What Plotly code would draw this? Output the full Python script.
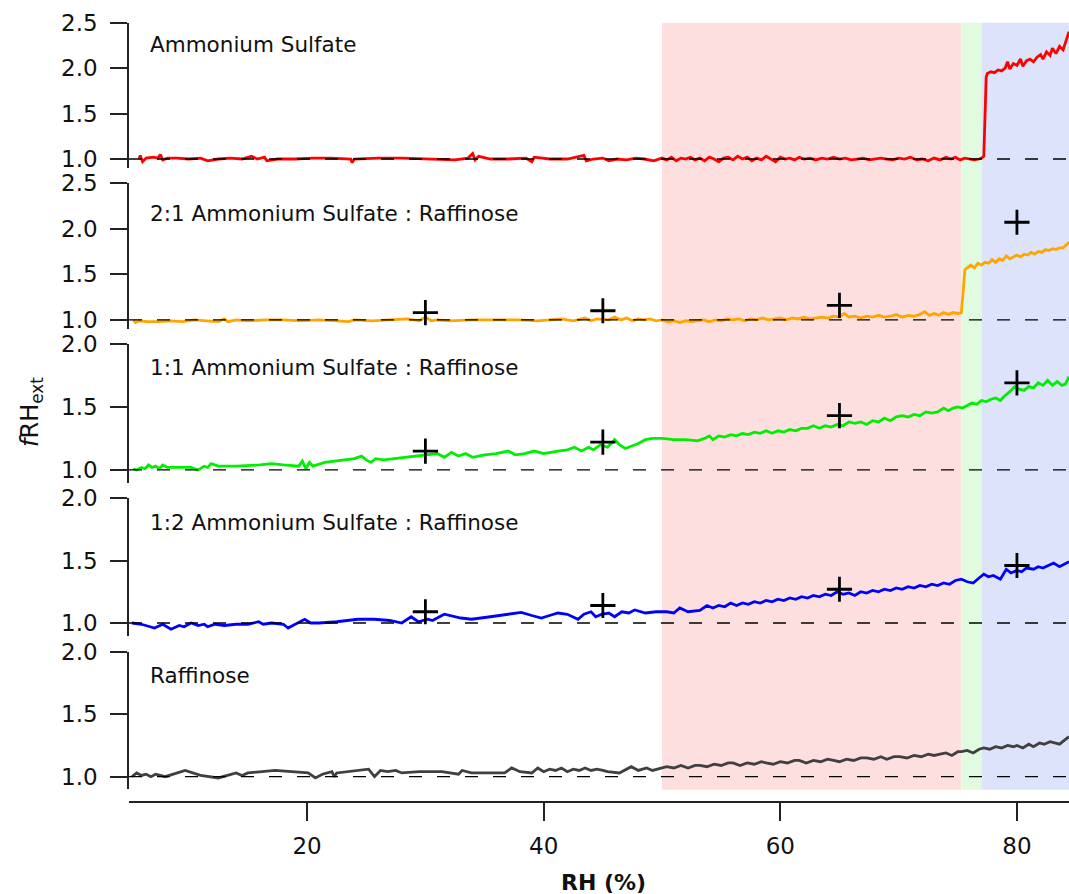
import plotly.graph_objects as go

# ---------------- data ----------------
panel_labels = ["Ammonium Sulfate", "2:1 Ammonium Sulfate : Raffinose",
                "1:1 Ammonium Sulfate : Raffinose", "1:2 Ammonium Sulfate : Raffinose",
                "Raffinose"]
line_colors = ["#ff0000", "#ffa500", "#00ee00", "#0000ff", "#404040"]

x_as = [5.8, 5.9, 6.1, 6.4, 7.0, 7.4, 7.6, 7.8, 8.2, 9.0, 10.0, 11.0, 11.6, 12.5, 13.5, 14.5, 15.3, 15.8,
        16.4, 16.6, 17.5, 19.0, 20.5, 22.0, 23.7, 23.8, 24.0, 26.0, 28.0, 30.0, 31.5, 32.5, 33.6, 34.0,
        34.2, 34.5, 35.5, 37.0, 38.5, 39.0, 39.2, 40.5, 42.0, 43.4, 43.6, 44.2, 45.0, 45.5, 46.2, 47.0,
        47.8, 48.5, 49.3,
        50.0, 50.4, 50.8, 51.2, 51.6, 52.0, 52.4, 52.8, 53.2, 53.6, 54.0, 54.4, 54.8, 55.2, 55.6, 56.0,
        56.4, 56.8, 57.2, 57.6, 58.0, 58.4, 58.8, 59.2, 59.6, 60.0, 60.4, 60.8, 61.2, 61.6, 62.0, 62.5,
        63.0, 63.5, 64.0, 64.5, 65.0, 65.5, 66.0, 66.5, 67.0, 67.5, 68.0, 68.5, 69.0, 69.5, 70.0, 70.5,
        71.0, 71.5, 72.0, 72.5, 73.0, 73.5, 74.0, 74.4, 74.8, 75.2, 75.6, 76.0, 76.4, 76.8, 77.0, 77.2,
        77.3, 77.4, 77.5, 77.8, 78.1, 78.4, 78.7, 79.0, 79.2, 79.4, 79.7, 80.0, 80.3, 80.5, 80.8, 81.1,
        81.4, 81.7, 82.0, 82.2, 82.5, 82.8, 83.0, 83.3, 83.6, 83.9, 84.1, 84.4]
y_as = [1.00, 1.04, 0.97, 1.01, 1.02, 1.01, 1.05, 0.99, 1.01, 1.01, 1.00, 1.01, 0.98, 1.00, 1.01, 1.00, 1.03, 1.00,
        1.02, 0.98, 1.00, 1.00, 1.01, 1.01, 1.00, 0.96, 1.00, 1.01, 1.01, 1.00, 1.00, 0.99, 1.01, 1.06,
        0.99, 1.03, 1.00, 1.00, 1.01, 0.97, 1.02, 1.00, 1.00, 1.04, 0.98, 1.00, 1.01, 0.98, 1.00, 0.99,
        1.01, 1.00, 0.98,
        1.01, 0.99, 1.02, 0.98, 1.01, 1.00, 1.02, 0.99, 1.01, 0.98, 1.02, 1.00, 0.97, 1.01, 1.02, 0.99,
        1.03, 1.00, 1.02, 0.98, 1.01, 0.99, 1.03, 1.00, 0.97, 1.02, 1.00, 1.01, 0.99, 1.02, 1.00, 1.01,
        0.99, 1.01, 1.00, 1.02, 1.00, 1.01, 0.99, 1.00, 1.01, 0.99, 1.00, 1.01, 1.00, 0.99, 1.01, 1.00,
        1.02, 0.99, 1.00, 0.98, 1.01, 0.99, 1.02, 1.00, 1.02, 0.99, 1.01, 1.00, 0.99, 1.00, 1.01, 1.03,
        1.40, 1.90, 1.94, 1.96, 1.95, 1.98, 1.97, 2.00, 2.07, 1.99, 2.05, 2.03, 2.10, 2.02, 2.08, 2.10,
        2.07, 2.12, 2.15, 2.10, 2.18, 2.14, 2.22, 2.16, 2.24, 2.20, 2.28, 2.40]

x_21 = [5.3, 5.5, 5.8, 6.5, 7.5, 8.5, 9.5, 10.5, 11.5, 12.5, 13.0, 13.3, 14.0, 15.0, 16.5, 18.0, 19.5, 21.0,
        22.5, 23.5, 24.0, 25.5, 27.0, 28.5, 29.5, 30.0, 30.5, 31.0, 32.0, 34.0, 36.0, 38.0, 39.5, 40.5,
        41.5, 42.5, 43.5, 44.0, 44.5, 45.5, 46.0, 46.5, 47.0, 47.5, 48.0, 48.5, 49.0, 49.5, 50.0, 50.5,
        51.0, 51.5, 52.0, 52.5, 53.0, 53.5, 54.0, 54.5, 55.0, 55.5, 56.0, 56.5, 57.0, 57.5, 58.0, 58.5,
        59.0, 59.5, 60.0, 60.5, 61.0, 61.5, 62.0, 62.5, 63.0, 63.5, 64.0, 64.5, 65.0, 65.4, 65.8, 66.3,
        66.8, 67.3, 67.8, 68.3, 68.8, 69.3, 69.8, 70.3, 70.8, 71.3, 71.8, 72.2, 72.6, 73.0, 73.4, 73.8,
        74.2, 74.6, 75.0, 75.3, 75.45, 75.6, 75.8, 76.1, 76.4, 76.7, 77.0, 77.3, 77.6, 77.9, 78.2, 78.5,
        78.8, 79.1, 79.4, 79.7, 80.0, 80.3, 80.6, 80.9, 81.2, 81.5, 81.8, 82.1, 82.4, 82.7, 83.0, 83.3,
        83.6, 83.9, 84.2, 84.4]
y_21 = [1.00, 0.97, 0.99, 0.98, 0.98, 0.99, 0.98, 1.00, 0.99, 0.98, 1.01, 0.98, 1.00, 0.99, 1.00, 1.00, 0.99, 1.00,
        0.99, 0.98, 1.00, 0.99, 1.00, 1.01, 0.99, 1.03, 0.99, 1.00, 0.99, 1.00, 1.00, 1.00, 0.99, 1.00,
        1.01, 0.99, 1.02, 0.99, 1.01, 1.00, 1.03, 1.00, 1.02, 0.99, 1.01, 1.00, 1.01, 0.99, 1.00, 0.98,
        0.99, 0.97, 0.99, 0.98, 0.99, 1.00, 0.98, 1.00, 0.99, 1.01, 1.00, 1.01, 0.99, 1.01, 1.00, 1.02,
        1.00, 1.01, 1.02, 1.00, 1.02, 1.01, 1.03, 1.01, 1.02, 1.03, 1.02, 1.04, 1.03, 1.07, 1.03, 1.04,
        1.02, 1.04, 1.03, 1.05, 1.03, 1.04, 1.06, 1.03, 1.05, 1.04, 1.06, 1.09, 1.05, 1.07, 1.05, 1.08,
        1.06, 1.08, 1.07, 1.08, 1.30, 1.55, 1.57, 1.60, 1.57, 1.62, 1.60, 1.63, 1.62, 1.66, 1.63, 1.67,
        1.65, 1.70, 1.67, 1.69, 1.71, 1.69, 1.72, 1.71, 1.74, 1.72, 1.75, 1.74, 1.77, 1.76, 1.78, 1.77,
        1.79, 1.79, 1.82, 1.85]

x_11 = [5.3, 5.6, 6.0, 6.3, 6.6, 6.9, 7.2, 7.5, 7.8, 8.2, 9.0, 10.2, 10.8, 11.3, 11.6, 11.9, 12.5, 14.0,
        16.0, 17.0, 18.0, 19.3, 19.6, 19.9, 20.2, 20.5, 21.5, 23.0, 24.0, 24.6, 25.0, 25.4, 25.8, 26.5,
        27.5, 28.5, 29.5, 30.3, 31.0, 31.6, 32.2, 32.8, 33.4, 34.0, 35.0, 36.0, 37.0, 37.6, 38.4, 39.2,
        40.0, 41.2, 42.0, 42.6, 43.2, 43.8, 44.2, 44.8, 45.4, 46.0, 46.4, 46.9, 47.5, 48.0, 48.6, 49.2,
        50.0, 51.0, 52.0, 53.0, 53.6, 54.0, 54.3, 54.8, 55.3, 55.8, 56.3, 56.8, 57.3, 57.8, 58.3, 58.8,
        59.3, 59.8, 60.3, 60.8, 61.3, 61.8, 62.3, 62.8, 63.3, 63.8, 64.3, 64.8, 65.3, 65.8, 66.3, 66.8,
        67.3, 67.8, 68.3, 68.8, 69.3, 69.8, 70.3, 70.8, 71.3, 71.8, 72.3, 72.8, 73.3, 73.8, 74.2, 74.6,
        75.0, 75.4, 75.8, 76.2, 76.6, 77.0, 77.4, 77.8, 78.2, 78.6, 79.0, 79.4, 79.8, 80.2, 80.6, 81.0,
        81.4, 81.8, 82.2, 82.6, 83.0, 83.4, 83.8, 84.1, 84.4]
y_11 = [1.01, 1.00, 1.02, 1.01, 1.04, 1.02, 1.03, 1.01, 1.04, 1.02, 1.02, 1.02, 1.00, 1.03, 1.02, 1.05, 1.03, 1.03,
        1.04, 1.05, 1.04, 1.03, 1.07, 1.01, 1.06, 1.03, 1.06, 1.08, 1.09, 1.11, 1.08, 1.06, 1.09, 1.08,
        1.09, 1.10, 1.11, 1.12, 1.13, 1.10, 1.14, 1.11, 1.13, 1.10, 1.12, 1.13, 1.15, 1.12, 1.13, 1.15,
        1.13, 1.15, 1.16, 1.18, 1.15, 1.18, 1.16, 1.20, 1.18, 1.24, 1.20, 1.17, 1.19, 1.21, 1.24, 1.25,
        1.25, 1.24, 1.24, 1.23, 1.25, 1.27, 1.24, 1.27, 1.26, 1.28, 1.27, 1.29, 1.28, 1.30, 1.29, 1.31,
        1.29, 1.31, 1.30, 1.32, 1.31, 1.33, 1.33, 1.35, 1.33, 1.35, 1.34, 1.36, 1.35, 1.38, 1.37, 1.38,
        1.36, 1.39, 1.38, 1.41, 1.39, 1.42, 1.43, 1.42, 1.44, 1.43, 1.46, 1.45, 1.46, 1.49, 1.47, 1.49,
        1.50, 1.49, 1.51, 1.53, 1.52, 1.55, 1.54, 1.56, 1.57, 1.55, 1.59, 1.62, 1.66, 1.64, 1.63, 1.66,
        1.65, 1.69, 1.67, 1.71, 1.67, 1.70, 1.67, 1.68, 1.74]

x_12 = [5.2, 6.0, 7.1, 7.8, 8.5, 9.2, 9.6, 10.2, 10.8, 11.3, 11.6, 12.2, 13.0, 14.0, 15.0, 15.9, 16.3, 17.0,
        18.0, 18.4, 19.0, 19.8, 20.3, 21.0, 22.5, 24.3, 25.7, 27.0, 28.0, 28.8, 29.4, 30.2, 30.6, 31.6,
        33.0, 33.9, 35.5, 37.0, 38.1, 39.0, 39.8, 40.5, 41.2, 42.0, 42.9, 43.4, 44.0, 44.4, 44.9, 45.5,
        46.0, 46.6, 47.2, 47.7, 48.6, 49.5, 50.4, 51.0, 51.5, 52.2, 53.2, 53.8, 54.3, 54.8, 55.3, 55.8,
        56.3, 56.8, 57.3, 57.8, 58.3, 58.8, 59.3, 59.8, 60.3, 60.8, 61.3, 61.8, 62.3, 62.8, 63.3, 63.8,
        64.3, 64.8, 65.3, 65.8, 66.3, 66.8, 67.3, 67.8, 68.3, 68.8, 69.3, 69.8, 70.3, 70.8, 71.3, 71.8,
        72.3, 72.8, 73.3, 73.8, 74.3, 74.8, 75.3, 75.8, 76.3, 76.8, 77.2, 77.6, 78.0, 78.6, 79.1, 79.5,
        80.0, 80.4, 80.8, 81.4, 81.8, 82.2, 82.6, 83.1, 83.6, 84.0, 84.4]
y_12 = [1.00, 0.99, 0.96, 0.99, 0.95, 0.98, 0.97, 1.00, 0.98, 0.99, 0.97, 0.99, 0.98, 0.99, 0.99, 1.01, 0.99, 1.00,
        0.99, 0.96, 0.99, 1.03, 1.00, 1.00, 1.01, 1.03, 1.03, 1.02, 1.00, 1.05, 1.01, 1.03, 1.02, 1.07,
        1.04, 1.03, 1.05, 1.07, 1.085, 1.06, 1.04, 1.06, 1.08, 1.07, 1.03, 1.07, 1.09, 1.05, 1.07, 1.08,
        1.05, 1.09, 1.08, 1.105, 1.08, 1.09, 1.09, 1.08, 1.12, 1.09, 1.10, 1.14, 1.12, 1.14, 1.13, 1.16,
        1.14, 1.16, 1.15, 1.17, 1.16, 1.18, 1.17, 1.19, 1.18, 1.20, 1.19, 1.21, 1.20, 1.22, 1.21, 1.23,
        1.22, 1.25, 1.23, 1.24, 1.22, 1.25, 1.24, 1.26, 1.25, 1.27, 1.26, 1.28, 1.27, 1.29, 1.28, 1.30,
        1.29, 1.31, 1.30, 1.32, 1.31, 1.34, 1.35, 1.33, 1.32, 1.36, 1.39, 1.37, 1.38, 1.35, 1.43, 1.40,
        1.42, 1.41, 1.44, 1.43, 1.45, 1.44, 1.46, 1.48, 1.45, 1.47, 1.49]

x_raf = [5.2, 5.6, 6.0, 6.4, 6.8, 7.2, 7.6, 8.0, 9.7, 11.0, 12.5, 13.5, 14.0, 14.5, 15.0, 17.3, 19.0, 20.1,
         20.7, 21.3, 22.1, 22.3, 22.5, 24.0, 25.2, 25.7, 26.2, 26.8, 27.5, 28.0, 29.5, 31.4, 32.8, 33.1,
         33.9, 35.0, 36.7, 37.3, 38.0, 39.0, 39.5, 40.0, 40.5, 41.0, 41.5, 42.0, 42.5, 43.0, 43.5, 44.0,
         44.5, 45.0, 45.4, 46.4, 47.4, 48.0, 48.7, 49.2, 49.6, 50.4, 51.0, 51.6, 52.2, 52.8, 53.2, 53.8,
         54.4, 55.0, 55.6, 56.0, 56.6, 57.2, 57.8, 58.4, 58.8, 59.4, 60.0, 60.6, 61.2, 61.6, 62.2, 62.8,
         63.4, 64.0, 64.5, 65.0, 65.6, 66.2, 66.8, 67.3, 67.9, 68.5, 69.0, 69.6, 70.1, 70.7, 71.3, 71.9,
         72.5, 73.0, 73.5, 74.0, 74.5, 75.0, 75.3, 75.8, 76.3, 76.8, 77.2, 77.7, 78.2, 78.7, 79.2, 79.7,
         80.0, 80.5, 81.0, 81.4, 81.9, 82.3, 82.8, 83.2, 83.6, 84.0, 84.4]
y_raf = [1.00, 1.03, 1.01, 1.02, 1.00, 1.02, 1.01, 1.00, 1.05, 1.01, 0.99, 1.02, 1.03, 1.01, 1.03, 1.05, 1.04, 1.03,
         0.99, 1.02, 1.04, 1.00, 1.03, 1.05, 1.06, 1.00, 1.05, 1.04, 1.05, 1.03, 1.04, 1.04, 1.02, 1.05,
         1.03, 1.03, 1.03, 1.07, 1.04, 1.03, 1.07, 1.04, 1.06, 1.05, 1.07, 1.04, 1.06, 1.05, 1.07, 1.05,
         1.06, 1.05, 1.04, 1.03, 1.08, 1.05, 1.07, 1.05, 1.06, 1.08, 1.07, 1.09, 1.07, 1.09, 1.09, 1.08,
         1.10, 1.09, 1.11, 1.11, 1.09, 1.11, 1.10, 1.12, 1.11, 1.10, 1.12, 1.11, 1.13, 1.13, 1.11, 1.13,
         1.12, 1.14, 1.13, 1.12, 1.14, 1.13, 1.15, 1.15, 1.14, 1.16, 1.14, 1.16, 1.16, 1.15, 1.17, 1.16,
         1.18, 1.17, 1.18, 1.19, 1.17, 1.20, 1.20, 1.21, 1.19, 1.22, 1.23, 1.22, 1.24, 1.23, 1.25, 1.24,
         1.25, 1.23, 1.26, 1.24, 1.27, 1.26, 1.28, 1.27, 1.26, 1.29, 1.32]

# "+" markers (model/theory points)
marker_rh = [30, 45, 65, 80]
marker_21 = [1.08, 1.10, 1.16, 2.07]
marker_11 = [1.15, 1.22, 1.43, 1.69]
marker_12 = [1.09, 1.14, 1.27, 1.46]

# shaded RH regions: (start, end, color)
region_start = [50.0, 75.3, 77.0]
region_end = [75.3, 77.0, 84.4]
region_color = ["#fddfe0", "#e1fbe0", "#dde3fa"]

x_range = [4.95, 84.4]
y_ranges = [[0.9, 2.5], [0.9, 2.5], [0.9, 2.0], [0.9, 2.0], [0.9, 2.0]]
x_ticks = [20, 40, 60, 80]

series_x = [x_as, x_21, x_11, x_12, x_raf]
series_y = [y_as, y_21, y_11, y_12, y_raf]
series_markers = [None, marker_21, marker_11, marker_12, None]

# ---------------- layout geometry (pixels) ----------------
W, H = 1069, 894
ML, MR, MT, MB = 129, 0, 22, 92
plot_h = H - MT - MB
plot_w = W - ML - MR

def py(p):  # pixel y -> paper y
    return (H - MB - p) / plot_h

def px(p):  # pixel x -> paper x
    return (p - ML) / plot_w

# panel pixel extents (top, bottom)
panel_px = [(22.7, 168.1), (183.0, 329.0), (343.7, 482.6), (498.0, 635.5), (651.7, 789.2)]
label_py = [44, 213, 367, 522, 675]

FONT = "DejaVu Sans"
AXC = "#222"
fig = go.Figure()

for i in range(5):
    yname = "y" if i == 0 else f"y{i+1}"
    fig.add_trace(go.Scatter(x=series_x[i], y=series_y[i], mode="lines",
                             line=dict(color=line_colors[i], width=2.8),
                             xaxis="x", yaxis=yname, showlegend=False, hoverinfo="skip"))
    if series_markers[i] is not None:
        fig.add_trace(go.Scatter(x=marker_rh, y=series_markers[i], mode="markers",
                                 marker=dict(symbol="cross-thin", size=18,
                                             line=dict(width=2.8, color="black")),
                                 xaxis="x", yaxis=yname, showlegend=False, hoverinfo="skip"))

layout = dict(
    width=W, height=H,
    margin=dict(l=ML, r=MR, t=MT, b=MB),
    paper_bgcolor="white", plot_bgcolor="white",
    font=dict(family=FONT, size=22, color="#111"),
    xaxis=dict(range=x_range, domain=[0, 1], anchor="free", position=0,
               showline=True, linecolor=AXC, linewidth=1.5,
               ticks="outside", ticklen=18, tickwidth=1.5, tickcolor=AXC,
               tickvals=x_ticks, showgrid=False, zeroline=False,
               tickfont=dict(size=23), ticklabelstandoff=6),
)
shapes = []
for i in range(5):
    key = "yaxis" if i == 0 else f"yaxis{i+1}"
    top, bot = panel_px[i]
    layout[key] = dict(range=y_ranges[i], domain=[py(bot), py(top)], anchor="x",
                       showline=True, linecolor=AXC, linewidth=1.5,
                       ticks="outside", ticklen=17, tickwidth=1.5, tickcolor=AXC,
                       dtick=0.5, tick0=1.0, tickformat=".1f", showgrid=False, zeroline=False,
                       tickfont=dict(size=23), ticklabelstandoff=8)
    yref = "y" if i == 0 else f"y{i+1}"
    shapes.append(dict(type="line", xref="x domain", yref=yref, x0=0, x1=1, y0=1.0, y1=1.0,
                       line=dict(color="black", width=1.3, dash="13px,15px"), layer="above"))

for s, e, c in zip(region_start, region_end, region_color):
    shapes.append(dict(type="rect", xref="x", yref="paper", x0=s, x1=e,
                       y0=py(789.7), y1=py(22.7), fillcolor=c, line=dict(width=0), layer="below"))
layout["shapes"] = shapes

annotations = []
for i in range(5):
    annotations.append(dict(text=panel_labels[i], xref="paper", yref="paper",
                            x=px(148), y=py(label_py[i]), xanchor="left", yanchor="middle",
                            showarrow=False, font=dict(family=FONT, size=21.5, color="#111")))
annotations.append(dict(text="<i>f</i>RH<sub>ext</sub>", xref="paper", yref="paper",
                        x=px(31), y=py(412), xanchor="center", yanchor="middle", textangle=-90,
                        showarrow=False, font=dict(family=FONT, size=24, color="#111")))
annotations.append(dict(text="<b>RH (%)</b>", xref="paper", yref="paper",
                        x=px(603), y=py(882), xanchor="center", yanchor="middle",
                        showarrow=False, font=dict(family=FONT, size=22, color="#111")))
layout["annotations"] = annotations

fig.update_layout(**layout)
fig.write_html("out.html", config={"displayModeBar": False},
               post_script="document.body.style.margin='0px';")
